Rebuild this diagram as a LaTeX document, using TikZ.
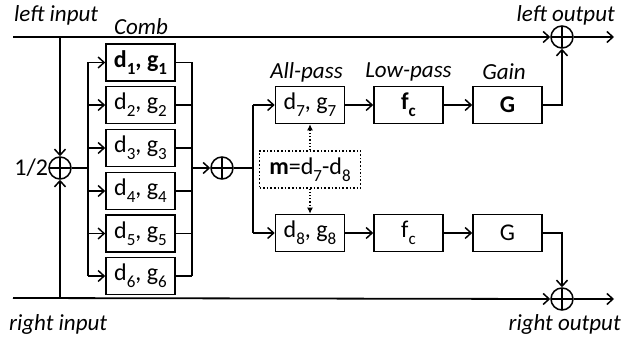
\documentclass[tikz,border=0pt]{standalone}
\usepackage{fontspec}
\setmainfont{Carlito}
\usetikzlibrary{arrows.meta}
% subscript in the block labels
\newcommand\subs[1]{\raisebox{-0.3em}{\fontsize{17}{17}\selectfont #1}}
\begin{document}
\begin{tikzpicture}[x=1pt,y=-1pt,
  wire/.style={line width=1.8pt},
  arr/.style={wire,-{Straight Barb[length=6pt,width=11pt,line width=1.5pt]}},
  dotarr/.style={line width=1.2pt,dotted,-{Latex[length=6pt,width=6pt]}},
  blk/.style={draw,line width=1.6pt,minimum width=69pt,minimum height=37pt,inner sep=0pt,
    font=\fontsize{24}{26}\selectfont},
  sumc/.style={draw,circle,line width=1.5pt,minimum size=22pt,inner sep=0pt,
    path picture={\draw[line width=1.4pt]
      (path picture bounding box.north) -- (path picture bounding box.south)
      (path picture bounding box.west) -- (path picture bounding box.east);}},
  lbl/.style={font=\fontsize{23}{25}\selectfont\itshape,inner sep=0pt}]
\useasboundingbox (0,0) rectangle (622,344);

% summing junctions
\node[sumc] (half) at (60,168) {};
\node[sumc] (mix) at (222,168) {};
\node[sumc] (lo) at (562,37) {};
\node[sumc] (ro) at (562,299) {};

% comb filters
\node[blk] (c1) at (140.5,62.5) {\textbf{d\subs{1}, g\subs{1}}};
\node[blk] (c2) at (140.5,105) {d\subs{2}, g\subs{2}};
\node[blk] (c3) at (140.5,148) {d\subs{3}, g\subs{3}};
\node[blk] (c4) at (140.5,191) {d\subs{4}, g\subs{4}};
\node[blk] (c5) at (140.5,233.5) {d\subs{5}, g\subs{5}};
\node[blk] (c6) at (140.5,276) {d\subs{6}, g\subs{6}};

% all-pass, low-pass and gain stages
\node[blk] (ap7) at (310,105) {d\subs{7}, g\subs{7}};
\node[blk] (ap8) at (310,233) {d\subs{8}, g\subs{8}};
\node[blk,dotted,line width=1.4pt,minimum width=101pt] (m) at (310,169.5)
  {\textbf{m}=d\subs{7}-d\subs{8}};
\node[blk] (lp7) at (408.5,105) {\textbf{f\subs{c}}};
\node[blk] (lp8) at (408.5,233) {f\subs{c}};
\node[blk] (g7) at (507.5,105) {\textbf{G}};
\node[blk] (g8) at (507.5,233) {G};

% inputs, outputs and bus points
\coordinate (li) at (13,37);
\coordinate (ri) at (13,298);
\coordinate (lout) at (614,37);
\coordinate (rout) at (614,299);
\coordinate (busL) at (88,168);
\coordinate (busR) at (192,168);
\coordinate (split) at (253,168);

% labels
\node[lbl,anchor=west] (tli) at (14,15) {left input};
\node[lbl,anchor=west] (tri) at (9,324) {right input};
\node[lbl,anchor=east] (tlo) at (615,15) {left output};
\node[lbl,anchor=east] (tro) at (621,324) {right output};
\node[lbl] (tcomb) at (141,27) {Comb};
\node[lbl] (tap) at (306.5,72) {All-pass};
\node[lbl] (tlp) at (408.5,72) {Low-pass};
\node[lbl] (tg) at (504,72) {Gain};
\node[font=\fontsize{24}{26}\selectfont,inner sep=0pt,anchor=east] (thalf) at (half.west) {1/2};

% input lines and mono sum
\draw[arr] (li) -- (lo.west);
\draw[arr] (lo.east) -- (lout);
\draw[arr] (ri) -- (ro.west);
\draw[arr] (ro.east) -- (rout);
\draw[arr] (half |- li) -- (half.north);
\draw[arr] (half |- ri) -- (half.south);

% parallel comb bank
\draw[wire] (half.east) -- (busL);
\draw[wire] (c1.west -| busL) -- (c6.west -| busL);
\draw[wire] (c1.east -| busR) -- (c6.east -| busR);
\foreach \i in {1,...,6}{
  \draw[arr] (c\i.west -| busL) -- (c\i.west);
  \draw[wire] (c\i.east) -- (c\i.east -| busR);
}
\draw[arr] (busR) -- (mix.west);

% stereo split
\draw[wire] (mix.east) -- (split);
\draw[wire] (ap7.west -| split) -- (ap8.west -| split);
\draw[arr] (ap7.west -| split) -- (ap7.west);
\draw[arr] (ap8.west -| split) -- (ap8.west);
\draw[dotarr] (m.north) -- (ap7.south);
\draw[dotarr] (m.south) -- (ap8.north);

\draw[arr] (ap7.east) -- (lp7.west);
\draw[arr] (lp7.east) -- (g7.west);
\draw[arr] (g7.east) -| (lo.south);
\draw[arr] (ap8.east) -- (lp8.west);
\draw[arr] (lp8.east) -- (g8.west);
\draw[arr] (g8.east) -| (ro.north);
\end{tikzpicture}
\end{document}
